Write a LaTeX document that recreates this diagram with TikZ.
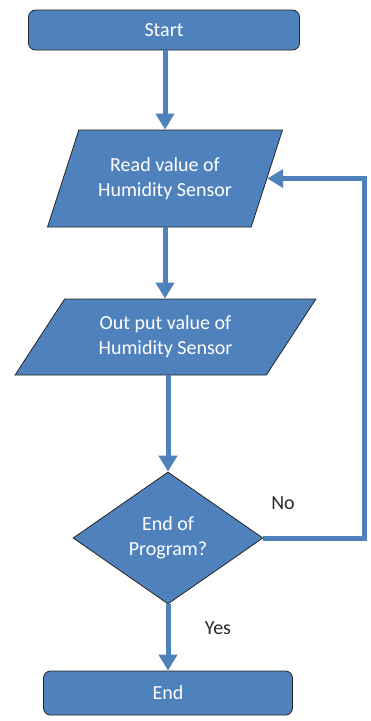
\documentclass[tikz,border=0pt]{standalone}
\usepackage{fontspec}
\setmainfont{Carlito}
\usetikzlibrary{shapes.geometric, arrows.meta}
\definecolor{boxblue}{RGB}{79,129,189}
\definecolor{labelgray}{RGB}{40,40,40}

\begin{document}
\begin{tikzpicture}[x=1pt, y=-1pt,
    every node/.style={font=\fontsize{20}{25}\selectfont},
    terminal/.style={draw=black!85, line width=0.8pt, fill=boxblue, text=white,
        rounded corners=7pt, inner sep=0pt},
    inout/.style={trapezium, trapezium stretches=true, draw=black!85, line width=0.8pt,
        fill=boxblue, text=white, align=center, inner sep=0pt},
    decision/.style={diamond, draw=black!85, line width=0.8pt, fill=boxblue,
        text=white, align=center, inner sep=0pt},
    flow/.style={draw=boxblue, line width=5pt, -{Triangle[width=18pt,length=16pt]}},
    answer/.style={text=labelgray}]
    \useasboundingbox (0,0) rectangle (370,721);

    \node[terminal, minimum width=271pt, minimum height=40pt] (start) at (164,30) {Start};
    \node[inout, trapezium left angle=60, trapezium right angle=120,
        minimum width=235pt, minimum height=97pt] (read) at (165,178.5)
        {Read value of\\Humidity Sensor};
    \node[inout, trapezium left angle=52, trapezium right angle=128,
        minimum width=301pt, minimum height=76pt] (out) at (165.5,337)
        {Out put value of\\Humidity Sensor};
    \node[decision, minimum width=190pt, minimum height=132pt] (prog) at (168,538)
        {End of\\Program?};
    \node[terminal, minimum width=249pt, minimum height=44pt] (end) at (168,693) {End};

    \coordinate (turn) at (364,538);

    \draw[flow] (start.south -| read.north) -- (read.north);
    \draw[flow] (read.south) -- (read.south |- out.north);
    \draw[flow] (out.south -| prog.north) -- (prog.north);
    \draw[flow] (prog.south) -- (end.north);
    \draw[flow] (prog.east) -- (turn) |- (read.east);

    \node[answer] (no) at (283,503) {No};
    \node[answer] (yes) at (218,628) {Yes};
\end{tikzpicture}
\end{document}
